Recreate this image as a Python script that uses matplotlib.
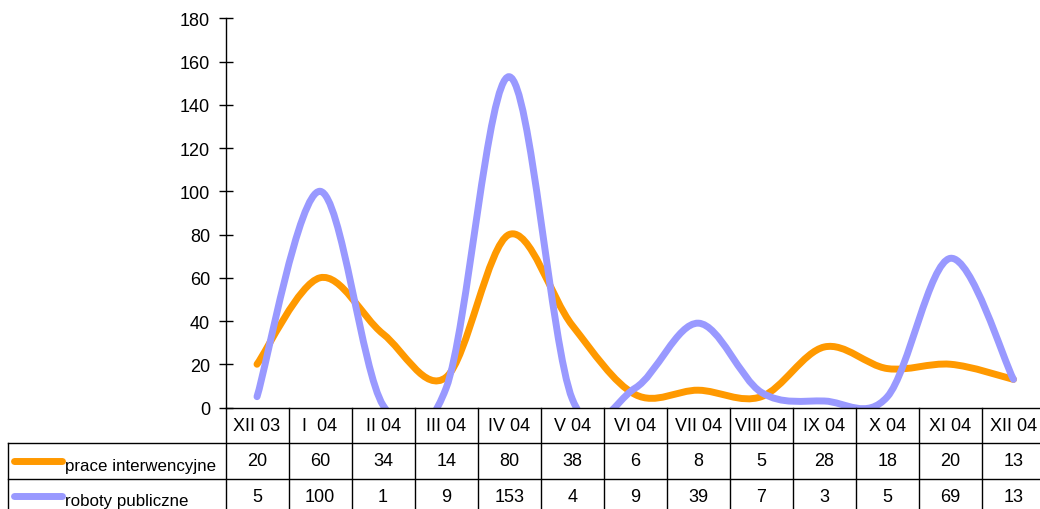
import numpy as np
import matplotlib.pyplot as plt
from matplotlib.path import Path
from matplotlib.patches import PathPatch
from matplotlib.transforms import blended_transform_factory

plt.rcParams['font.family'] = ['Liberation Sans', 'DejaVu Sans']

months = ["XII 03", "I  04", "II 04", "III 04", "IV 04", "V 04", "VI 04",
          "VII 04", "VIII 04", "IX 04", "X 04", "XI 04", "XII 04"]
prace = [20, 60, 34, 14, 80, 38, 6, 8, 5, 28, 18, 20, 13]
roboty = [5, 100, 1, 9, 153, 4, 9, 39, 7, 3, 5, 69, 13]
series_names = ["prace interwencyjne", "roboty publiczne"]
colors = ["#FF9900", "#9999FF"]
FS = 13


def smooth_path(y):
    # excel-like smoothed line: cubic bezier with catmull-rom control points
    x = np.arange(len(y), dtype=float)
    y = np.asarray(y, dtype=float)
    pts = np.column_stack([x, y])
    verts = [pts[0]]
    codes = [Path.MOVETO]
    n = len(pts)
    for i in range(n - 1):
        p0 = pts[max(i - 1, 0)]
        p1 = pts[i]
        p2 = pts[i + 1]
        p3 = pts[min(i + 2, n - 1)]
        c1 = p1 + (p2 - p0) / 6.0
        c2 = p2 - (p3 - p1) / 6.0
        verts += [c1, c2, p2]
        codes += [Path.CURVE4] * 3
    return Path(verts, codes)


W, H = 1040, 510
fig = plt.figure(figsize=(W / 100, H / 100), dpi=100)
ax_left, ax_right, ax_bot, ax_top = 225.5, 1045, 408.5, 19.3
ax = fig.add_axes([ax_left / W, (H - ax_bot) / H,
                   (ax_right - ax_left) / W, (ax_bot - ax_top) / H])

for vals, col in zip([prace, roboty], colors):
    patch = PathPatch(smooth_path(vals), facecolor="none", edgecolor=col,
                      linewidth=5, capstyle="round", joinstyle="round")
    ax.add_patch(patch)

ax.set_xlim(-0.5, len(months) - 0.5)
ax.set_ylim(0, 180)
ax.set_yticks(np.arange(0, 181, 20))
ax.set_xticks([])
for s in ["top", "right"]:
    ax.spines[s].set_visible(False)
ax.spines["left"].set_linewidth(1)
ax.spines["bottom"].set_linewidth(1)
ax.tick_params(axis="y", direction="inout", length=10, width=1,
               labelsize=FS, pad=6)

# data table under the plot
tr = blended_transform_factory(ax.transData, ax.transAxes)
row_h = 35.5 / (ax_bot - ax_top)
n = len(months)
label_left = -0.5 - (ax_left - 8) / ((ax_right - ax_left) / n)
lk = dict(color="black", linewidth=1, clip_on=False, transform=tr)

# horizontal lines
ax.plot([label_left, n - 0.5], [-row_h, -row_h], **lk)
ax.plot([label_left, n - 0.5], [-2 * row_h, -2 * row_h], **lk)
# vertical lines
for i in range(n + 1):
    ax.plot([i - 0.5, i - 0.5], [0, -3.2 * row_h], **lk)
ax.plot([label_left, label_left], [-row_h, -3.2 * row_h], **lk)

for i, m in enumerate(months):
    ax.text(i, -0.5 * row_h, m, transform=tr, ha="center", va="center",
            fontsize=FS, clip_on=False)
    ax.text(i, -1.5 * row_h, str(prace[i]), transform=tr, ha="center",
            va="center", fontsize=FS, clip_on=False)
    ax.text(i, -2.5 * row_h, str(roboty[i]), transform=tr, ha="center",
            va="center", fontsize=FS, clip_on=False)

# legend keys inside the table's label column
unit = (ax_right - ax_left) / n
k0 = label_left + 6 / unit
k1 = label_left + 54 / unit
for r, (name, col) in enumerate(zip(series_names, colors)):
    yy = -(1.5 + r) * row_h
    ax.plot([k0, k1], [yy, yy], color=col, linewidth=5,
            solid_capstyle="round", clip_on=False, transform=tr)
    ax.text(k1 + 3 / unit, yy - 0.012, name, transform=tr, ha="left",
            va="center", fontsize=12.2, clip_on=False)

fig.savefig("out.png", dpi=100)
